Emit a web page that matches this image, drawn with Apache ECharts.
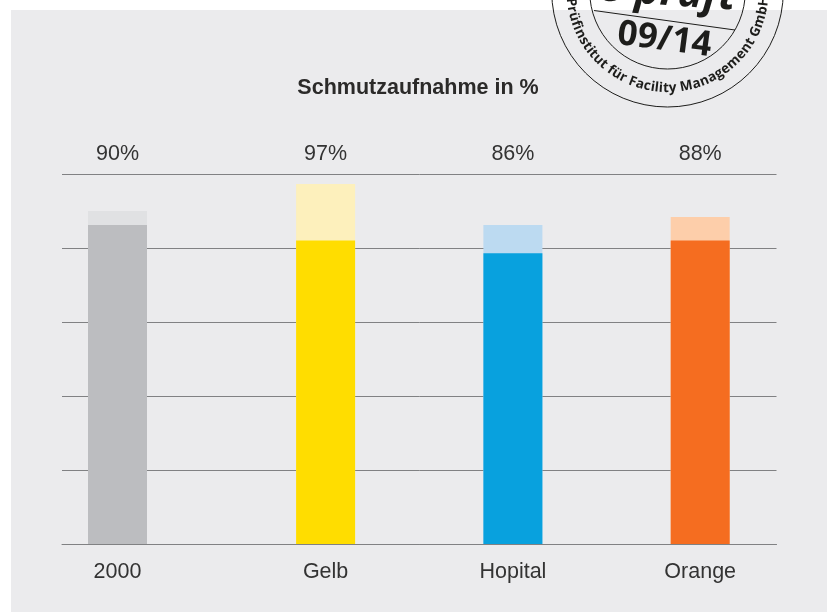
<!DOCTYPE html>
<html>
<head>
<meta charset="utf-8">
<title>Schmutzaufnahme</title>
<style>
html, body { margin: 0; padding: 0; background: #ffffff; }
#main { width: 827px; height: 612px; }
</style>
<script src="https://cdn.jsdelivr.net/npm/echarts@6/dist/echarts.min.js"></script>
</head>
<body>
<div id="main"></div>
<script>
// Werte
var categories = ['2000', 'Gelb', 'Hopital', 'Orange'];
var totalValues = [90, 97.3, 86.2, 88.4];
var baseValues = [86.2, 82, 78.6, 82];
var totalLabels = ['90%', '97%', '86%', '88%'];
var yTicks = [0, 20, 40, 60, 80, 100];

var baseColors = ['#bcbdc0', '#ffdd00', '#08a1de', '#f56d20'];
var paleColors = ['#e0e1e3', '#fdf0bc', '#bcdaf1', '#fdceaa'];

// Die Balken stehen nicht gleichmaessig: Kategorien liegen auf einem feineren Raster
var slotCount = 104;
var slotOfBar = [8, 38, 65, 92];

function spread(list) {
	var out = [];
	for (var i = 0; i < slotCount; i++) {
		var k = slotOfBar.indexOf(i);
		out.push(k >= 0 ? list[k] : '');
	}
	return out;
}

function barData(values, colors) {
	var out = [];
	for (var i = 0; i < slotCount; i++) {
		var k = slotOfBar.indexOf(i);
		out.push(k >= 0 ? { value: values[k], itemStyle: { color: colors[k] } } : null);
	}
	return out;
}

// Pruefsiegel oben rechts
var sealX = 667.5, sealY = -8.8;
var ink = '#1d1d1b';
var ringFont = 'bold 13.5px "Open Sans", sans-serif';

// Umlaufschrift, Buchstabe fuer Buchstabe auf dem Kreis
function ringText(text, radius, startDeg) {
	var ctx = document.createElement('canvas').getContext('2d');
	ctx.font = ringFont;
	var list = [];
	for (var i = 0; i < text.length; i++) {
		var before = ctx.measureText(text.slice(0, i)).width;
		var own = ctx.measureText(text[i]).width;
		var deg = startDeg - (before + own / 2) / radius * 180 / Math.PI;
		var rad = deg * Math.PI / 180;
		list.push({
			type: 'text',
			x: sealX + radius * Math.cos(rad),
			y: sealY + radius * Math.sin(rad),
			rotation: (90 - deg) * Math.PI / 180,
			style: { text: text[i], fill: ink, align: 'center', verticalAlign: 'middle', font: ringFont },
			z: 20
		});
	}
	return list;
}

var sealGraphics = [
	{ type: 'circle', shape: { cx: sealX, cy: sealY, r: 115.8 }, style: { fill: 'none', stroke: ink, lineWidth: 1 }, z: 20 },
	{ type: 'circle', shape: { cx: sealX, cy: sealY, r: 77.8 }, style: { fill: 'none', stroke: ink, lineWidth: 1 }, z: 20 },
	{ type: 'line', shape: { x1: 594, y1: 10.5, x2: 735, y2: 30 }, style: { stroke: ink, lineWidth: 1 }, z: 20 },
	{
		type: 'text', x: 664.5, y: 40, rotation: -0.13,
		style: { text: '09/14', fill: ink, align: 'center', verticalAlign: 'middle', font: 'bold 35px "Open Sans", sans-serif' },
		z: 20
	},
	{
		type: 'text', x: 667, y: -7, rotation: -0.07,
		style: { text: 'e-prüft', fill: ink, align: 'center', verticalAlign: 'middle', font: 'italic bold 42px "Open Sans", sans-serif' },
		z: 20
	}
].concat(ringText('Prüfinstitut für Facility Management GmbH', 97, 176));

var myChart = echarts.init(document.getElementById('main'));

myChart.setOption({
	animation: false,
	backgroundColor: '#ffffff',
	textStyle: { fontFamily: '"Liberation Sans", Arial, sans-serif' },
	title: {
		text: 'Schmutzaufnahme in %',
		left: 413,
		top: 72,
		textAlign: 'center',
		textStyle: { fontSize: 21.5, fontWeight: 'bold', color: '#2b2a29' }
	},
	grid: { left: 62, right: 50.5, top: 174, bottom: 68 },
	xAxis: [
		{
			type: 'category',
			boundaryGap: false,
			data: spread(categories),
			axisLine: { lineStyle: { color: '#808183', width: 1 } },
			axisTick: { show: false },
			axisLabel: { interval: 0, margin: 17, fontSize: 21.5, color: '#333333' }
		},
		{
			type: 'category',
			position: 'top',
			boundaryGap: false,
			data: spread(totalLabels),
			axisLine: { show: false },
			axisTick: { show: false },
			axisLabel: { interval: 0, margin: 9, fontSize: 21.5, color: '#333333' }
		}
	],
	yAxis: {
		type: 'value',
		min: yTicks[0],
		max: yTicks[yTicks.length - 1],
		interval: 20,
		axisLine: { show: false },
		axisTick: { show: false },
		axisLabel: { show: false },
		splitLine: { lineStyle: { color: '#808183', width: 1 } }
	},
	series: [
		{
			name: 'Gesamt',
			type: 'bar',
			barWidth: 59,
			barGap: '-100%',
			data: barData(totalValues, paleColors),
			z: 3
		},
		{
			name: 'Basis',
			type: 'bar',
			barWidth: 59,
			barGap: '-100%',
			data: barData(baseValues, baseColors),
			z: 4
		}
	],
	graphic: [
		{ type: 'rect', shape: { x: 11, y: 10, width: 816, height: 602 }, style: { fill: '#ebebed' }, z: -100, silent: true }
	].concat(sealGraphics)
});
</script>
</body>
</html>
